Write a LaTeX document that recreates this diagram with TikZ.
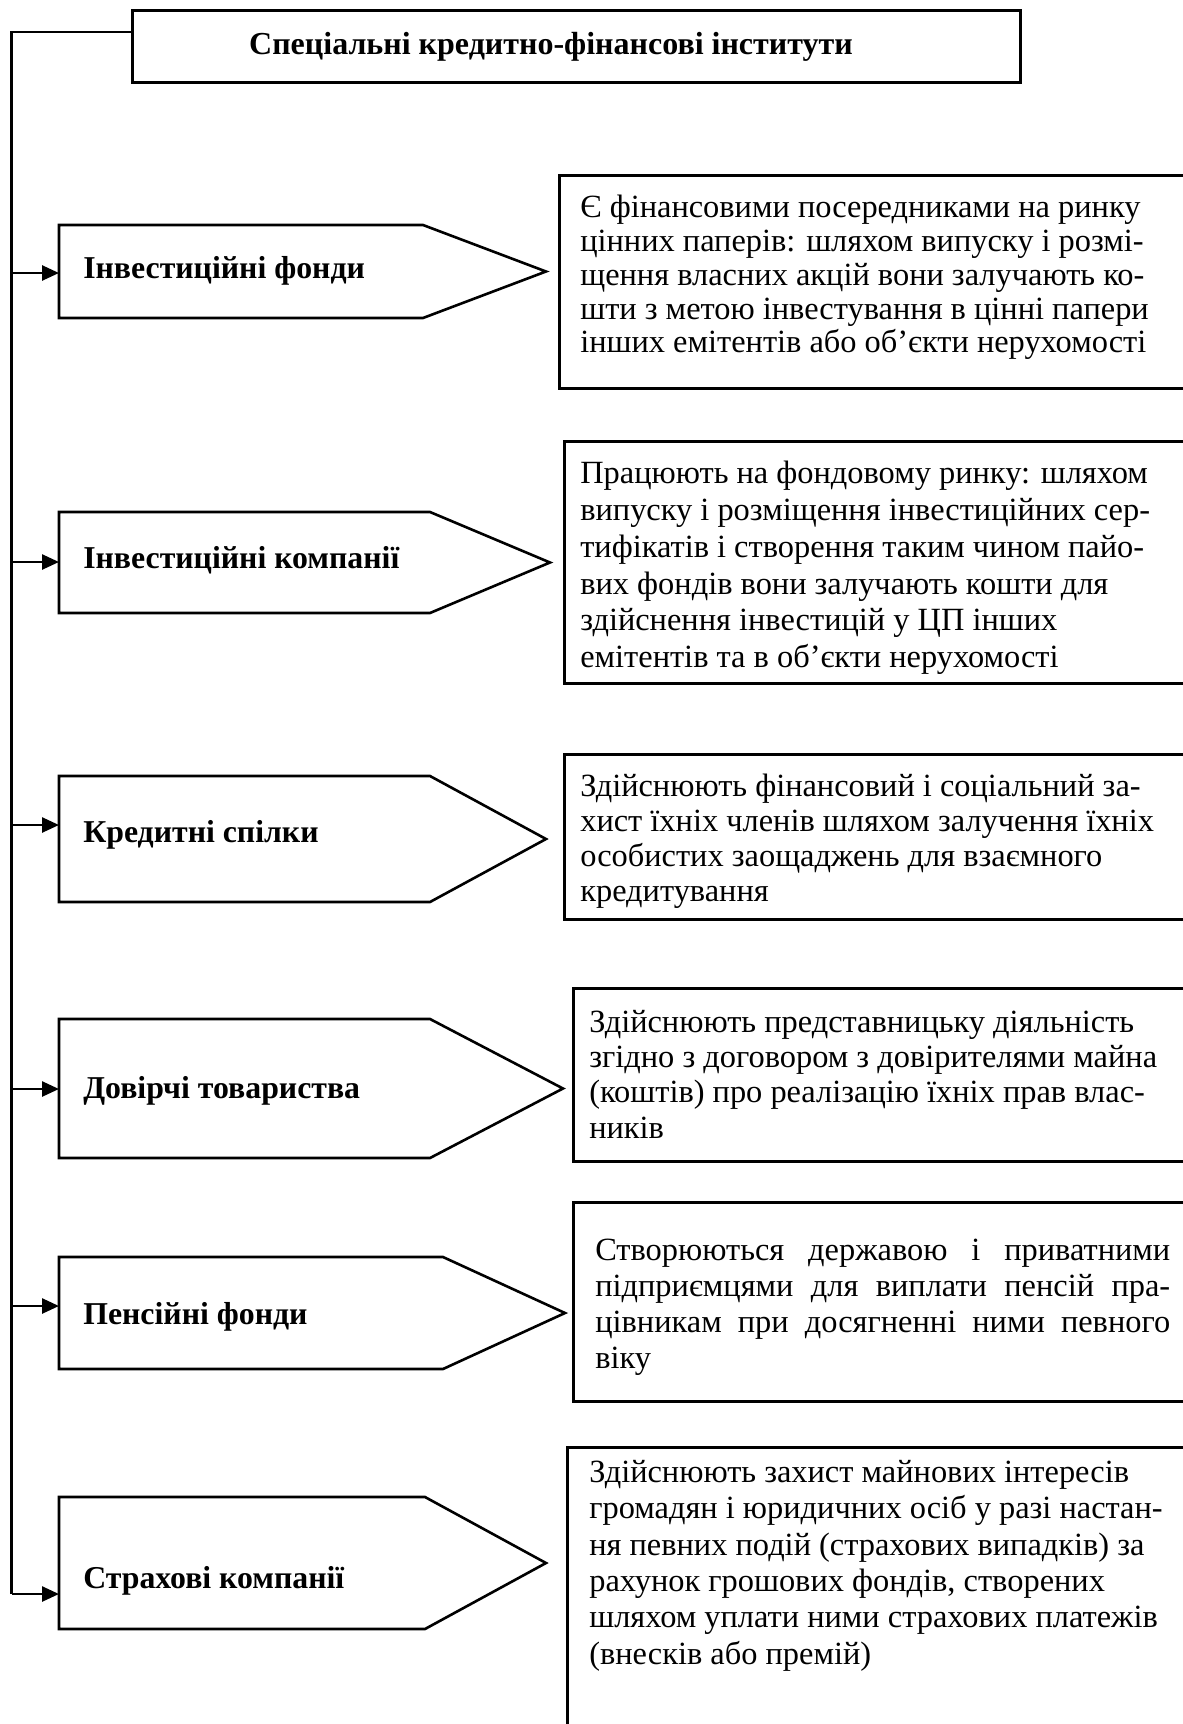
\documentclass[tikz,border=0pt]{standalone}
\usepackage{fontspec}
\setmainfont{Liberation Serif}
\usetikzlibrary{arrows.meta}
\begin{document}
\begin{tikzpicture}[x=1pt,y=-1pt,line width=2.6pt,
  frame/.style={draw,rectangle,anchor=north west,inner sep=0pt},
  desc/.style={anchor=north west,align=left,inner sep=0pt},
  plabel/.style={anchor=west,inner sep=0pt,font=\fontsize{31.8}{35}\selectfont\bfseries},
  arr/.style={-{Triangle[length=17pt,width=15pt]}}]
\useasboundingbox (0,0) rectangle (1183,1724);
\clip (0,0) rectangle (1183,1724);
% title
\node[frame,minimum width=888pt,minimum height=72pt] (titlebox) at (131,9) {};
\node[inner sep=0pt,font=\fontsize{32}{35}\selectfont\bfseries] (title) at (551,47) {Спеціальні кредитно-фінансові інститути};
% pentagons: top, bottom, corner, tip
\newcommand\pentbox[5]{%
  \draw (59,#2) -- (#4,#2) -- (#5,{(#2+#3)/2}) -- (#4,#3) -- (59,#3) -- cycle;
  \coordinate (#1tip) at (#5,{(#2+#3)/2});
}
\pentbox{p1}{225}{318}{423}{546}
\pentbox{p2}{512}{613}{430}{550}
\pentbox{p3}{776}{902}{430}{546}
\pentbox{p4}{1019}{1158}{430}{563}
\pentbox{p5}{1257}{1369}{443}{565}
\pentbox{p6}{1497}{1629}{425}{546}
\node[plabel] (l1) at (82,271) {Інвестиційні фонди};
\node[plabel] (l2) at (82,560) {Інвестиційні компанії};
\node[plabel] (l3) at (82,835) {Кредитні спілки};
\node[plabel] (l4) at (82,1091) {Довірчі товариства};
\node[plabel] (l5) at (82,1317) {Пенсійні фонди};
\node[plabel] (l6) at (82,1581) {Страхові компанії};
% spine
\coordinate (s0) at (11.5,32);
\coordinate (s6) at (11.5,1594);
\coordinate (e1) at (59,273);
\coordinate (e2) at (59,562);
\coordinate (e3) at (59,825);
\coordinate (e4) at (59,1089);
\coordinate (e5) at (59,1306);
\coordinate (e6) at (59,1594);
\draw (titlebox.west |- s0) -- (s0) -- (s6);
\foreach \i in {1,...,6} \draw[arr] (s0 |- e\i) -- (e\i);
% description boxes
\node[frame,minimum width=640pt,minimum height=213pt] (d1) at (558,174) {};
\node[frame,minimum width=640pt,minimum height=242pt] (d2) at (563,440) {};
\node[frame,minimum width=640pt,minimum height=165pt] (d3) at (563,753) {};
\node[frame,minimum width=640pt,minimum height=173pt] (d4) at (572,987) {};
\node[frame,minimum width=640pt,minimum height=199pt] (d5) at (572,1201) {};
\node[frame,minimum width=640pt,minimum height=300pt] (d6) at (566,1446) {};
\node[desc,font=\fontsize{32.4}{33.8}\selectfont] (t1) at (579,194) {Є фінансовими посередниками на ринку\\цінних паперів: шляхом випуску і розмі-\\щення власних акцій вони залучають ко-\\шти з метою інвестування в цінні папери\\інших емітентів або об’єкти нерухомості};
\node[desc,font=\fontsize{32.4}{36.8}\selectfont] (t2) at (579,460) {Працюють на фондовому ринку: шляхом\\випуску і розміщення інвестиційних сер-\\тифікатів і створення таким чином пайо-\\вих фондів вони залучають кошти для\\здійснення інвестицій у ЦП інших\\емітентів та в об’єкти нерухомості};
\node[desc,font=\fontsize{32.4}{35}\selectfont] (t3) at (579,773) {Здійснюють фінансовий і соціальний за-\\хист їхніх членів шляхом залучення їхніх\\особистих заощаджень для взаємного\\кредитування};
\node[desc,font=\fontsize{32.4}{35.2}\selectfont] (t4) at (588,1009) {Здійснюють представницьку діяльність\\згідно з договором з довірителями майна\\(коштів) про реалізацію їхніх прав влас-\\ників};
\node[desc,font=\fontsize{32.4}{36}\selectfont] (t5) at (594,1238) {\makebox[575pt][s]{Створюються державою і приватними}\\\makebox[575pt][s]{підприємцями для виплати пенсій пра-}\\\makebox[575pt][s]{цівникам при досягненні ними певного}\\віку};
\node[desc,font=\fontsize{32.4}{36.3}\selectfont] (t6) at (588,1459) {Здійснюють захист майнових інтересів\\громадян і юридичних осіб у разі настан-\\ня певних подій (страхових випадків) за\\рахунок грошових фондів, створених\\шляхом уплати ними страхових платежів\\(внесків або премій)};
\end{tikzpicture}
\end{document}
